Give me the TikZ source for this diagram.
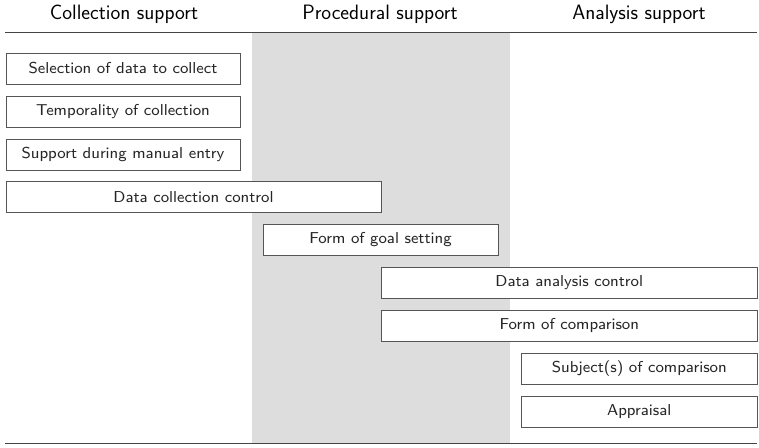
\documentclass[tikz,border=0pt]{standalone}
\usepackage{fontspec}
\newfontfamily\boxfont{lmsans8-regular.otf}
\begin{document}
\begin{tikzpicture}[x=1pt,y=-1pt,
  box/.style={draw=boxline, line width=0.9pt, fill=white, inner sep=0pt,
    text=inktext, font=\boxfont\fontsize{15.8}{18}\selectfont},
  head/.style={text=black, font=\sffamily\fontsize{20.8}{23}\selectfont, inner sep=0pt},
  rule/.style={draw=ruleline, line width=1.4pt}]
\definecolor{band}{HTML}{DDDDDD}
\definecolor{boxline}{HTML}{555555}
\definecolor{ruleline}{HTML}{444444}
\definecolor{inktext}{HTML}{262626}
\useasboundingbox (0,0) rectangle (759,447);
% shaded middle column
\fill[band] (252,33) rectangle (510,443.5);
% column headings and rules
\node[head] (h1) at (124,14) {Collection support};
\node[head] (h2) at (380,14) {Procedural support};
\node[head] (h3) at (639,14) {Analysis support};
\draw[rule] (5,32.5) -- (757,32.5);
\draw[rule] (5,443.5) -- (757,443.5);
% boxes
\newcommand{\bx}[6]{\draw[box] (#2,#3) rectangle (#4,#5) node[box, draw=none, fill=none, midway] (#1) {#6};}
\bx{b1}{6}{53}{240}{84}{Selection of data to collect}
\bx{b2}{6}{96}{240}{127}{Temporality of collection}
\bx{b3}{6}{139}{240}{170}{Support during manual entry}
\bx{b4}{6}{181.5}{381}{212.5}{Data collection control}
\bx{b5}{263}{224.5}{498}{255.5}{Form of goal setting}
\bx{b6}{381.5}{267}{757}{298}{Data analysis control}
\bx{b7}{381.5}{310}{757}{341}{Form of comparison}
\bx{b8}{521.5}{353}{757}{384}{Subject(s) of comparison}
\bx{b9}{521.5}{396}{757}{427}{Appraisal}
\end{tikzpicture}
\end{document}
